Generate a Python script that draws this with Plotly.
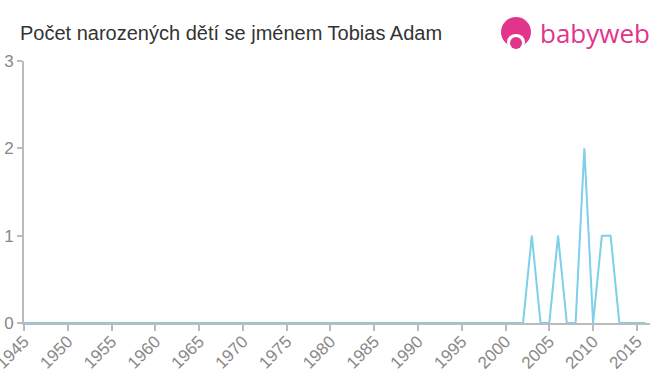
import plotly.graph_objects as go

title_text = "Počet narozených dětí se jménem Tobias Adam"
years = list(range(1945, 2017))
counts_nonzero = {2003: 1, 2006: 1, 2009: 2, 2011: 1, 2012: 1}
values = [counts_nonzero.get(y, 0) for y in years]
x_ticks = list(range(1945, 2020, 5))
y_ticks = [0, 1, 2, 3]

line_color = "#7dcfea"
axis_color = "#bbbbbb"
tick_font_color = "#888888"
pink = "#e2348b"

L, R, T, B = 24, 650, 61, 323
def px(x):
    return (x - L) / (R - L)
def py(y):
    return (B - y) / (B - T)

fig = go.Figure()
fig.add_trace(go.Scatter(x=years, y=values, mode="lines",
                         line=dict(color=line_color, width=2),
                         hoverinfo="x+y", showlegend=False))

fig.update_layout(
    width=660, height=375,
    margin=dict(l=L, r=660 - R, t=T, b=375 - B, autoexpand=False),
    paper_bgcolor="white", plot_bgcolor="white",
    font=dict(family="Liberation Sans, Arial, sans-serif"),
    title=dict(text=title_text, x=20/660, xanchor="left", y=1-33/375, yanchor="middle",
               font=dict(size=20, color="#333333")),
    xaxis=dict(range=[1945, 2016.5], tickvals=x_ticks, ticktext=[str(v) for v in x_ticks],
               tickangle=-45, showgrid=False, zeroline=False, automargin=False,
               ticklabeloverflow="allow", ticklabelstandoff=-6,
               showline=True, linecolor=axis_color, linewidth=2,
               ticks="outside", ticklen=6, tickcolor=axis_color, tickwidth=2,
               tickfont=dict(size=17, color=tick_font_color)),
    yaxis=dict(range=[0, 3], tickvals=y_ticks, showgrid=False, zeroline=False, automargin=False,
               ticklabeloverflow="allow",
               showline=True, linecolor=axis_color, linewidth=2,
               ticks="outside", ticklen=5, tickcolor=axis_color, tickwidth=2,
               tickfont=dict(size=17, color=tick_font_color)),
)

# logo
fig.add_shape(type="circle", xref="paper", yref="paper",
              x0=px(501), x1=px(531), y0=py(47), y1=py(17),
              fillcolor=pink, line=dict(width=0), layer="above")
fig.add_shape(type="circle", xref="paper", yref="paper",
              x0=px(507), x1=px(525), y0=py(50), y1=py(34),
              fillcolor="white", line=dict(width=0), layer="above")
fig.add_shape(type="circle", xref="paper", yref="paper",
              x0=px(510), x1=px(522), y0=py(49), y1=py(37),
              fillcolor=pink, line=dict(width=0), layer="above")
fig.add_annotation(text="babyweb", xref="paper", yref="paper",
                   x=px(538), y=py(33), xanchor="left", yanchor="middle",
                   showarrow=False, font=dict(size=26, color=pink, family="Open Sans, sans-serif"))

fig.write_html("out.html")
